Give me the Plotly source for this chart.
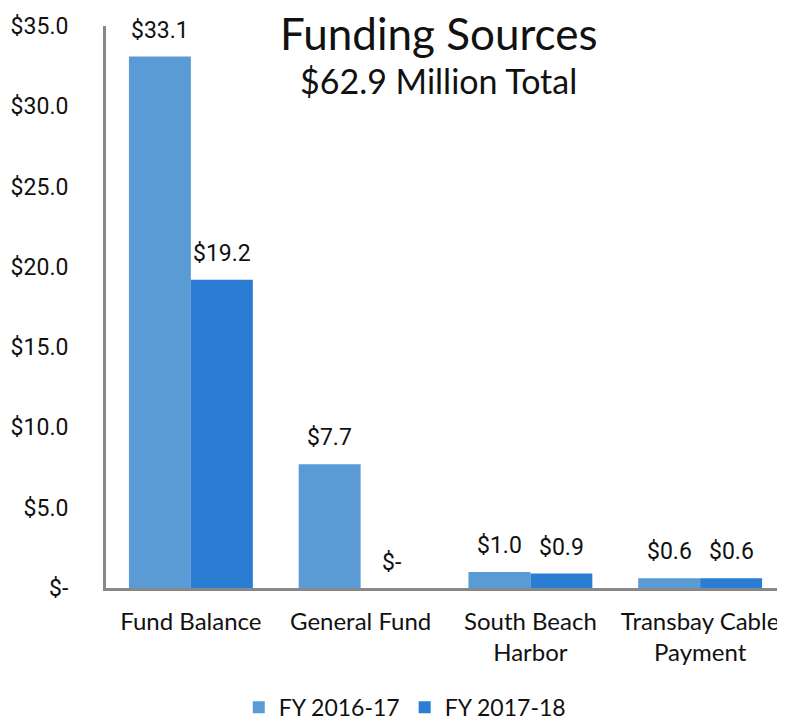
import plotly.graph_objects as go

# Chart data
categories = ["Fund Balance", "General Fund", "South Beach<br>Harbor", "Transbay Cable<br>Payment"]
fy_2016_17 = [33.1, 7.7, 1.0, 0.6]
fy_2017_18 = [19.2, 0.0, 0.9, 0.6]
series_names = ["FY 2016-17", "FY 2017-18"]
tick_values = [0, 5, 10, 15, 20, 25, 30, 35]
tick_labels = ["$-", "$5.0", "$10.0", "$15.0", "$20.0", "$25.0", "$30.0", "$35.0"]

LIGHT = "#5b9bd5"
DARK = "#2b7dd4"
TEXT_FONT = "Lato"


def money(v):
    return "$-" if v == 0 else "$%.1f" % v


fig = go.Figure()
fig.add_trace(go.Bar(x=categories, y=fy_2016_17, name=series_names[0],
                     marker_color=LIGHT, marker_line_width=0))
fig.add_trace(go.Bar(x=categories, y=fy_2017_18, name=series_names[1],
                     marker_color=DARK, marker_line_width=0))

# value labels above each bar
for values, shift in [(fy_2016_17, -31), (fy_2017_18, 31)]:
    for cat, v in zip(categories, values):
        fig.add_annotation(x=cat, y=v, text=money(v), showarrow=False,
                           xshift=shift, yshift=11 if v > 0 else 10,
                           yanchor="bottom",
                           font=dict(family="Roboto", size=23, color="#111111"))

fig.add_annotation(x=0.49, y=1.0, xref="paper", yref="paper", text="Funding Sources",
                   showarrow=False, yanchor="top", yshift=21,
                   font=dict(family=TEXT_FONT, size=44, color="#111111"))
fig.add_annotation(x=0.49, y=1.0, xref="paper", yref="paper", text="$62.9 Million Total",
                   showarrow=False, yanchor="top", yshift=-32,
                   font=dict(family=TEXT_FONT, size=34, color="#111111"))

# page body adds an 8px margin, so the figure is 8px smaller than the window
fig.update_layout(
    width=777, height=715,
    margin=dict(l=98, r=0, t=18, b=135, autoexpand=False),
    plot_bgcolor="white", paper_bgcolor="white",
    barmode="group", bargap=0.27, bargroupgap=0,
    showlegend=True,
    legend=dict(orientation="h", x=0.44, xanchor="center",
                y=-0.174, yanchor="top",
                font=dict(family=TEXT_FONT, size=23, color="#111111"),
                itemwidth=30, traceorder="normal"),
)
fig.update_xaxes(showline=True, linecolor="#888888", linewidth=3, showgrid=False,
                 ticks="", ticklabelstandoff=10, automargin=False,
                 tickfont=dict(family=TEXT_FONT, size=24, color="#111111"))
fig.update_yaxes(range=[0, 35], tickvals=tick_values, ticktext=tick_labels,
                 showline=True, linecolor="#888888", linewidth=3, showgrid=False,
                 zeroline=False, ticks="", ticklabelstandoff=30, automargin=False,
                 tickfont=dict(family="Roboto", size=23, color="#111111"))

fig.write_html("out.html")
